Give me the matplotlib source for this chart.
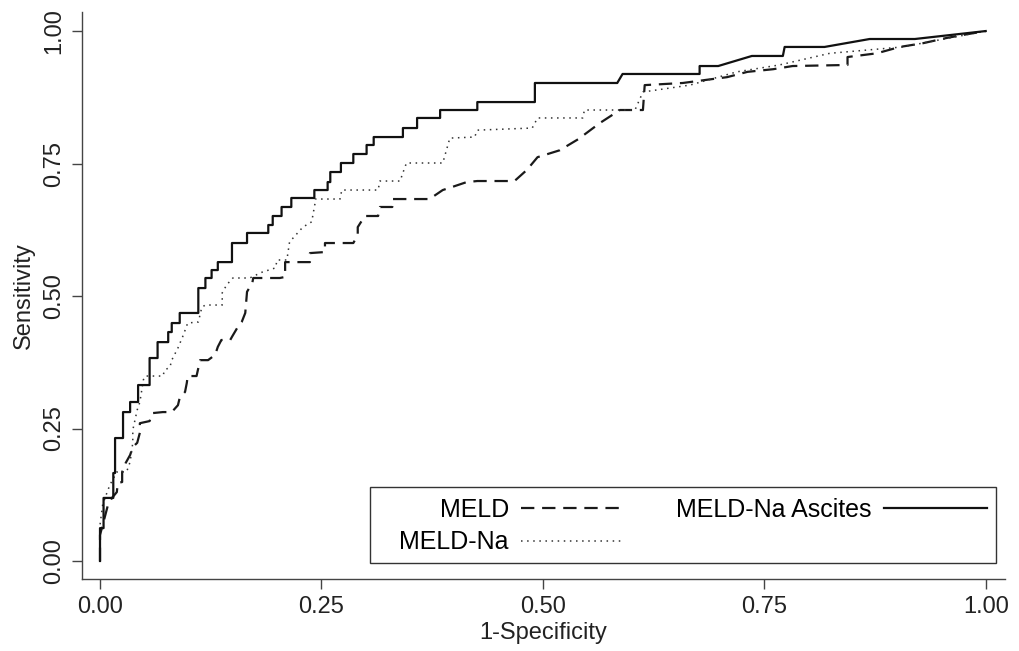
#%%
# ROC curves: MELD vs MELD-Na vs MELD-Na Ascites
#
import matplotlib as mpl
import matplotlib.pyplot as plt
from matplotlib.patches import Rectangle
mpl.rcParams['font.family'] = ['Liberation Sans', 'DejaVu Sans']

#
# ROC vertices (1-specificity, sensitivity)
#
meld_fpr = [0, 0, 0.0045, 0.009, 0.0135, 0.019, 0.020, 0.025, 0.025, 0.029,
            0.034, 0.037, 0.042, 0.045, 0.045, 0.056, 0.059, 0.071, 0.081,
            0.088, 0.090, 0.096, 0.098, 0.099, 0.109, 0.113, 0.122, 0.130,
            0.133, 0.137, 0.147, 0.149, 0.155, 0.160, 0.164, 0.166, 0.172,
            0.173, 0.203, 0.209, 0.209, 0.237, 0.237, 0.254, 0.254, 0.286,
            0.291, 0.291, 0.299, 0.314, 0.316, 0.330, 0.330, 0.372, 0.387,
            0.398, 0.414, 0.426, 0.468, 0.482, 0.494, 0.519, 0.540, 0.564,
            0.587, 0.613, 0.615, 0.658, 0.685, 0.708, 0.731, 0.760, 0.782,
            0.844, 0.844, 0.877, 0.903, 0.929, 0.956, 0.979, 1]
meld_tpr = [0, 0.049, 0.077, 0.106, 0.119, 0.130, 0.147, 0.149, 0.168, 0.185,
            0.200, 0.215, 0.223, 0.242, 0.260, 0.264, 0.279, 0.281, 0.281,
            0.294, 0.308, 0.319, 0.336, 0.349, 0.349, 0.379, 0.379, 0.389,
            0.404, 0.417, 0.417, 0.423, 0.440, 0.451, 0.468, 0.508, 0.525,
            0.534, 0.534, 0.536, 0.564, 0.564, 0.581, 0.583, 0.600, 0.600,
            0.615, 0.630, 0.651, 0.651, 0.668, 0.668, 0.683, 0.683, 0.700,
            0.706, 0.715, 0.717, 0.717, 0.738, 0.762, 0.775, 0.796, 0.826,
            0.851, 0.851, 0.898, 0.902, 0.908, 0.913, 0.923, 0.928, 0.934,
            0.936, 0.951, 0.958, 0.970, 0.977, 0.987, 0.994, 1]

meldna_fpr = [0, 0, 0.003, 0.007, 0.011, 0.019, 0.030, 0.034, 0.037, 0.037,
              0.042, 0.045, 0.049, 0.051, 0.071, 0.073, 0.079, 0.081, 0.088,
              0.094, 0.099, 0.111, 0.115, 0.119, 0.138, 0.138, 0.143, 0.150,
              0.169, 0.183, 0.198, 0.200, 0.211, 0.214, 0.229, 0.239, 0.243,
              0.243, 0.271, 0.273, 0.314, 0.316, 0.339, 0.341, 0.346, 0.387,
              0.395, 0.423, 0.426, 0.488, 0.494, 0.545, 0.547, 0.604, 0.613,
              0.666, 0.719, 0.767, 0.824, 0.906, 1]
meldna_tpr = [0, 0.068, 0.106, 0.125, 0.143, 0.168, 0.168, 0.187, 0.223, 0.247,
              0.285, 0.300, 0.342, 0.349, 0.349, 0.360, 0.366, 0.379, 0.402,
              0.426, 0.449, 0.451, 0.479, 0.483, 0.483, 0.506, 0.521, 0.534,
              0.534, 0.545, 0.553, 0.568, 0.568, 0.602, 0.630, 0.640, 0.677,
              0.683, 0.683, 0.700, 0.700, 0.717, 0.717, 0.728, 0.751, 0.751,
              0.798, 0.800, 0.813, 0.817, 0.836, 0.836, 0.851, 0.851, 0.885,
              0.898, 0.923, 0.936, 0.958, 0.970, 1]

ascites_fpr = [0, 0, 0.004, 0.004, 0.015, 0.015, 0.017, 0.017, 0.026, 0.026,
               0.034, 0.034, 0.043, 0.043, 0.056, 0.056, 0.065, 0.065, 0.077,
               0.077, 0.081, 0.081, 0.090, 0.090, 0.111, 0.111, 0.119, 0.119,
               0.126, 0.126, 0.133, 0.133, 0.149, 0.149, 0.166, 0.166, 0.190,
               0.190, 0.195, 0.195, 0.205, 0.205, 0.216, 0.216, 0.242, 0.242,
               0.257, 0.257, 0.260, 0.260, 0.272, 0.272, 0.286, 0.286, 0.301,
               0.301, 0.309, 0.309, 0.342, 0.342, 0.358, 0.358, 0.384, 0.384,
               0.426, 0.426, 0.491, 0.491, 0.584, 0.590, 0.677, 0.677, 0.698,
               0.736, 0.771, 0.773, 0.818, 0.869, 0.920, 1]
ascites_tpr = [0, 0.062, 0.062, 0.119, 0.119, 0.166, 0.166, 0.232, 0.232, 0.281,
               0.281, 0.300, 0.300, 0.332, 0.332, 0.383, 0.383, 0.413, 0.413,
               0.432, 0.432, 0.449, 0.449, 0.468, 0.468, 0.515, 0.515, 0.534,
               0.534, 0.549, 0.549, 0.564, 0.564, 0.600, 0.600, 0.619, 0.619,
               0.634, 0.634, 0.651, 0.651, 0.668, 0.668, 0.685, 0.685, 0.700,
               0.700, 0.715, 0.715, 0.734, 0.734, 0.751, 0.751, 0.768, 0.768,
               0.785, 0.785, 0.800, 0.800, 0.817, 0.817, 0.836, 0.836, 0.851,
               0.851, 0.866, 0.866, 0.902, 0.902, 0.919, 0.919, 0.934, 0.934,
               0.953, 0.953, 0.970, 0.970, 0.985, 0.985, 1]

ticks = [0, 0.25, 0.5, 0.75, 1.0]
tick_labels = ['0.00', '0.25', '0.50', '0.75', '1.00']

fig = plt.figure(figsize=(10.19, 6.51), dpi=100)
ax = fig.add_axes([0.0805, 0.1106, 0.9055, 0.871])

ax.plot(meld_fpr, meld_tpr, color='#1a1a1a', lw=1.6,
        dashes=(6, 3.5), label='MELD')
ax.plot(meldna_fpr, meldna_tpr, color='#333333', lw=1.1,
        dashes=(1, 3), label='MELD-Na')
ax.plot(ascites_fpr, ascites_tpr, color='#111111', lw=1.6,
        label='MELD-Na Ascites')

ax.set_xlim(-0.0203, 1.0215)
ax.set_ylim(-0.034, 1.036)

ax.set_xticks(ticks)
ax.set_xticklabels(tick_labels)
ax.set_yticks(ticks)
ax.set_yticklabels(tick_labels, rotation=90, va='center')
ax.tick_params(axis='both', labelsize=17, length=7, width=1,
               color='#444444', labelcolor='#222222', pad=5)

ax.spines['top'].set_visible(False)
ax.spines['right'].set_visible(False)
for s in ['left', 'bottom']:
    ax.spines[s].set_color('#444444')
    ax.spines[s].set_linewidth(1)

ax.set_xlabel('1-Specificity', fontsize=17, color='#222222', labelpad=3)
ax.set_ylabel('Sensitivity', fontsize=17, color='#222222', labelpad=6)

# legend box drawn by hand (wider left margin than matplotlib's padding)
ax.add_patch(Rectangle((0.312, 0.028), 0.678, 0.134, transform=ax.transAxes,
                       facecolor='white', edgecolor='#333333', lw=1,
                       zorder=4))
leg = ax.legend(ncol=2, markerfirst=False, loc='lower right',
                bbox_to_anchor=(0.990, 0.028), borderaxespad=0,
                fontsize=18, handlelength=4.1, handletextpad=0.5,
                columnspacing=2.1, labelspacing=0.35, borderpad=0.35,
                frameon=False)
leg.set_zorder(5)

plt.savefig('out.png', dpi=100)
